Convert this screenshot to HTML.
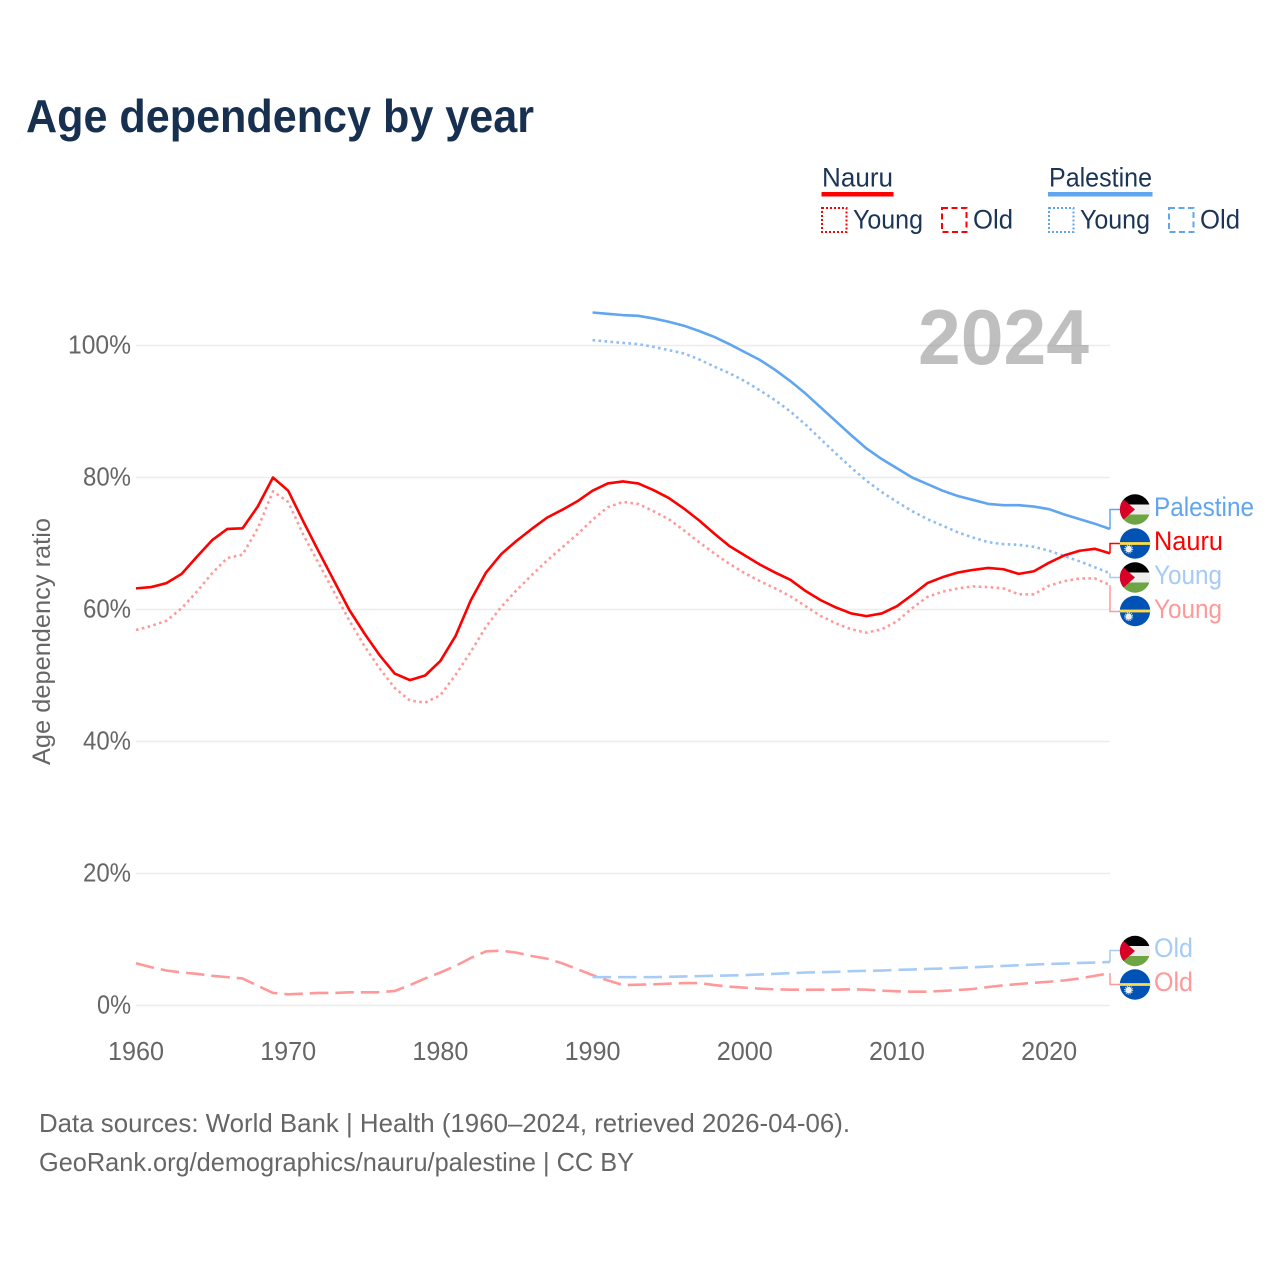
<!DOCTYPE html>
<html lang="en">
<head>
<meta charset="utf-8">
<title>Age dependency by year</title>
<style>
html,body{margin:0;padding:0;background:#fff;}
svg{display:block;font-family:"Liberation Sans",sans-serif;}
</style>
</head>
<body>
<svg id="chart" xmlns="http://www.w3.org/2000/svg" width="1280" height="1280" viewBox="0 0 1280 1280">
  <rect x="0" y="0" width="1280" height="1280" fill="#fff"/>
  <text x="26" y="132" font-size="46" font-weight="700" fill="#17304f" textLength="508" lengthAdjust="spacingAndGlyphs">Age dependency by year</text>

  <g font-size="27" fill="#1b3557">
    <text x="822" y="186.5" textLength="71" lengthAdjust="spacingAndGlyphs">Nauru</text>
    <rect x="821.5" y="192" width="72" height="4.5" fill="#ff0000"/>
    <rect x="822" y="208" width="24.5" height="24" fill="none" stroke="#ff0000" stroke-width="2" stroke-dasharray="2 2"/>
    <text x="853" y="228.5" textLength="70" lengthAdjust="spacingAndGlyphs">Young</text>
    <rect x="942" y="208" width="24.5" height="24" fill="none" stroke="#ff0000" stroke-width="2" stroke-dasharray="6 3.5"/>
    <text x="973" y="228.5" textLength="40" lengthAdjust="spacingAndGlyphs">Old</text>
    <text x="1049" y="186.5" textLength="103" lengthAdjust="spacingAndGlyphs">Palestine</text>
    <rect x="1048" y="192" width="104.5" height="4.5" fill="#60a5ef"/>
    <rect x="1049" y="208" width="24.5" height="24" fill="none" stroke="#60a5ef" stroke-width="2" stroke-dasharray="2 2"/>
    <text x="1080" y="228.5" textLength="70" lengthAdjust="spacingAndGlyphs">Young</text>
    <rect x="1169" y="208" width="24.5" height="24" fill="none" stroke="#60a5ef" stroke-width="2" stroke-dasharray="6 3.5"/>
    <text x="1200" y="228.5" textLength="40" lengthAdjust="spacingAndGlyphs">Old</text>
  </g>

  <g id="grid"></g>
  <text x="918" y="364" font-size="78" font-weight="700" fill="#808080" fill-opacity="0.5" textLength="171" lengthAdjust="spacingAndGlyphs">2024</text>
  <g id="yticks" font-size="26" fill="#666" text-anchor="end"></g>
  <g id="xticks" font-size="26" fill="#666" text-anchor="middle"></g>
  <text transform="translate(50,641.5) rotate(-90)" font-size="25" fill="#666" text-anchor="middle" textLength="247" lengthAdjust="spacingAndGlyphs">Age dependency ratio</text>

  <g id="series"></g>
  <g id="leaders"></g>
  <g id="flags"></g>

  <g font-size="27">
    <text x="1154" y="516" fill="#60a5ef" textLength="100" lengthAdjust="spacingAndGlyphs">Palestine</text>
    <text x="1154" y="550" fill="#ff0000" textLength="69" lengthAdjust="spacingAndGlyphs">Nauru</text>
    <text x="1154" y="584" fill="#a6cbf5" textLength="68" lengthAdjust="spacingAndGlyphs">Young</text>
    <text x="1154" y="618" fill="#ff9999" textLength="68" lengthAdjust="spacingAndGlyphs">Young</text>
    <text x="1154" y="957" fill="#a6cbf5" textLength="39" lengthAdjust="spacingAndGlyphs">Old</text>
    <text x="1154" y="991" fill="#ff9999" textLength="39" lengthAdjust="spacingAndGlyphs">Old</text>
  </g>

  <g font-size="26" fill="#666">
    <text x="39" y="1132" textLength="811" lengthAdjust="spacingAndGlyphs">Data sources: World Bank | Health (1960–2024, retrieved 2026-04-06).</text>
    <text x="39" y="1171" textLength="595" lengthAdjust="spacingAndGlyphs">GeoRank.org/demographics/nauru/palestine | CC BY</text>
  </g>
</svg>
<script>
const yearTicks = [1960, 1970, 1980, 1990, 2000, 2010, 2020];
const valueTicks = [0, 20, 40, 60, 80, 100];
const nauruStart = 1960;
const palestineStart = 1990;

const nauruTotal = [63.2,63.4,64.0,65.4,68.0,70.5,72.2,72.3,75.6,80.0,78.0,73.3,68.8,64.4,60.0,56.4,53.1,50.3,49.3,50.0,52.2,56.0,61.4,65.6,68.4,70.4,72.2,73.9,75.1,76.4,78.0,79.1,79.4,79.1,78.1,76.9,75.3,73.5,71.5,69.6,68.2,66.8,65.6,64.5,62.8,61.4,60.3,59.4,59.0,59.4,60.5,62.2,64.0,64.9,65.6,66.0,66.3,66.1,65.4,65.8,67.1,68.2,68.9,69.2,68.5];
const nauruYoung = [56.9,57.5,58.3,60.2,62.7,65.5,67.8,68.3,72.3,77.9,76.3,71.3,67.0,62.7,58.4,54.5,51.1,48.1,46.2,45.9,47.0,50.1,53.6,57.4,60.4,62.9,65.2,67.4,69.4,71.4,73.6,75.5,76.3,76.0,74.9,73.7,72.0,70.2,68.5,66.9,65.5,64.3,63.2,62.0,60.5,59.0,57.9,57.0,56.5,57.0,58.2,60.2,61.9,62.7,63.2,63.5,63.4,63.2,62.3,62.3,63.6,64.3,64.7,64.7,63.7];
const nauruOld = [6.4,5.8,5.3,5.0,4.8,4.5,4.3,4.1,3.0,1.9,1.7,1.8,1.9,1.9,2.0,2.0,2.0,2.2,3.1,4.1,5.0,6.0,7.2,8.2,8.3,8.0,7.5,7.1,6.4,5.5,4.6,3.8,3.1,3.15,3.2,3.3,3.4,3.4,3.1,2.85,2.7,2.55,2.45,2.4,2.4,2.4,2.4,2.45,2.4,2.25,2.15,2.1,2.1,2.2,2.35,2.5,2.8,3.05,3.25,3.45,3.6,3.8,4.1,4.5,4.9];
const palestineTotal = [105.0,104.8,104.6,104.5,104.1,103.6,103.0,102.2,101.3,100.2,99.0,97.8,96.3,94.6,92.7,90.6,88.5,86.4,84.4,82.8,81.4,80.0,79.0,78.0,77.2,76.6,76.0,75.8,75.8,75.6,75.2,74.4,73.7,73.0,72.2];
const palestineYoung = [100.8,100.6,100.4,100.2,99.8,99.3,98.8,97.9,96.8,95.8,94.6,93.2,91.7,90.0,88.0,85.8,83.6,81.5,79.5,77.8,76.3,74.9,73.7,72.7,71.7,70.9,70.2,69.9,69.8,69.5,68.9,68.1,67.3,66.4,65.5];
const palestineOld = [4.3,4.3,4.3,4.3,4.3,4.35,4.4,4.45,4.5,4.55,4.6,4.7,4.8,4.9,5.0,5.05,5.1,5.2,5.25,5.3,5.4,5.45,5.55,5.6,5.7,5.8,5.9,6.0,6.1,6.2,6.3,6.35,6.45,6.5,6.6];

const NS = 'http://www.w3.org/2000/svg';
function xScale(year) { return 136 + (year - 1960) * (1110 - 136) / 64; }
function yScale(v) { return 1005.5 - v * 6.6; }
function make(tag, parent, attrs) {
  const el = document.createElementNS(NS, tag);
  for (const k in attrs) el.setAttribute(k, attrs[k]);
  parent.appendChild(el);
  return el;
}

const gridG = document.getElementById('grid');
const yG = document.getElementById('yticks');
valueTicks.forEach(function (v) {
  const line = make('line', gridG, { x1: 136, x2: 1110, y1: yScale(v), y2: yScale(v), stroke: '#ececec', 'stroke-width': 1.6 });
  
  
  const t = make('text', yG, { x: 131, y: yScale(v) + 8, textLength: v === 100 ? 63 : (v === 0 ? 34 : 48), lengthAdjust: 'spacingAndGlyphs' });
  t.textContent = v + '%';
  
  
});

const xG = document.getElementById('xticks');
yearTicks.forEach(function (y) {
  const t = make('text', xG, { x: xScale(y), y: 1060, textLength: 56, lengthAdjust: 'spacingAndGlyphs' });
  t.textContent = String(y);
  
  
});

function pathFor(values, start) {
  return values.map(function (v, i) {
    return (i ? 'L' : 'M') + xScale(start + i).toFixed(2) + ' ' + yScale(v).toFixed(2);
  }).join('');
}
const seriesG = document.getElementById('series');
function drawLine(values, start, color, dash, name) {
  const p = make('path', seriesG, { d: pathFor(values, start), fill: 'none', stroke: color, 'stroke-width': 2.6, 'stroke-linejoin': 'round' });
  if (dash) p.setAttribute('stroke-dasharray', dash);
  
  
  return p;
}
drawLine(nauruOld, nauruStart, '#ff9999', '18.5 7', 'line-nauru-old');
drawLine(nauruYoung, nauruStart, '#ff9999', '2.6 3.4', 'line-nauru-young');
drawLine(palestineOld, palestineStart, '#a6cbf5', '18.5 7', 'line-palestine-old');
drawLine(palestineYoung, palestineStart, '#8ebdf2', '2.6 3.4', 'line-palestine-young');
drawLine(palestineTotal, palestineStart, '#60a5ef', null, 'line-palestine-total');
drawLine(nauruTotal, nauruStart, '#ff0000', null, 'line-nauru-total');

const leadersG = document.getElementById('leaders');
function leader(lastValue, labelY, color, name) {
  const ly = yScale(lastValue);
  const p = make('path', leadersG, { d: 'M1110 ' + ly.toFixed(2) + 'V' + labelY + 'H1120', fill: 'none', stroke: color, 'stroke-width': 1.5 });
  
  
}
leader(palestineTotal[palestineTotal.length - 1], 509.5, '#60a5ef', 'leader-palestine');
leader(nauruTotal[nauruTotal.length - 1], 543.5, '#ff0000', 'leader-nauru');
leader(palestineYoung[palestineYoung.length - 1], 577.5, '#a6cbf5', 'leader-palestine-young');
leader(nauruYoung[nauruYoung.length - 1], 611.5, '#ff9999', 'leader-nauru-young');
leader(palestineOld[palestineOld.length - 1], 950.5, '#a6cbf5', 'leader-palestine-old');
leader(nauruOld[nauruOld.length - 1], 984.5, '#ff9999', 'leader-nauru-old');

const flagsG = document.getElementById('flags');
const defs = make('defs', flagsG, {});
const clip = make('clipPath', defs, { id: 'flag-clip' });
make('circle', clip, { cx: 0, cy: 0, r: 15.2 });
function palestineFlag(cy, name) {
  const outer = make('g', flagsG, { transform: 'translate(1135,' + cy + ')' });
  
  
  const g = make('g', outer, { 'clip-path': 'url(#flag-clip)' });
  make('rect', g, { x: -16, y: -16, width: 32, height: 32, fill: '#eeeeee' });
  make('rect', g, { x: -16, y: -16, width: 32, height: 11, fill: '#000000' });
  make('rect', g, { x: -16, y: 5, width: 32, height: 11, fill: '#6da544' });
  make('path', g, { d: 'M-15.5 -13.5L0 0L-15.5 13.5Z', fill: '#d80027' });
}
function nauruFlag(cy, name) {
  const outer = make('g', flagsG, { transform: 'translate(1135,' + cy + ')' });
  
  
  const g = make('g', outer, { 'clip-path': 'url(#flag-clip)' });
  make('rect', g, { x: -16, y: -16, width: 32, height: 32, fill: '#0052b4' });
  make('rect', g, { x: -16, y: -1.4, width: 32, height: 2.8, fill: '#ffda44' });
  make('circle', g, { cx: -6.3, cy: 5.6, r: 3.2, fill: '#f0f0f0' });
  make('circle', g, { cx: -6.3, cy: 5.6, r: 4, fill: 'none', stroke: '#f0f0f0', 'stroke-width': 1, 'stroke-dasharray': '1 1.1' });
}
palestineFlag(509.5, 'flag-palestine-total');
nauruFlag(543.5, 'flag-nauru-total');
palestineFlag(577.5, 'flag-palestine-young');
nauruFlag(611, 'flag-nauru-young');
palestineFlag(951, 'flag-palestine-old');
nauruFlag(984.5, 'flag-nauru-old');
</script>
</body>
</html>
